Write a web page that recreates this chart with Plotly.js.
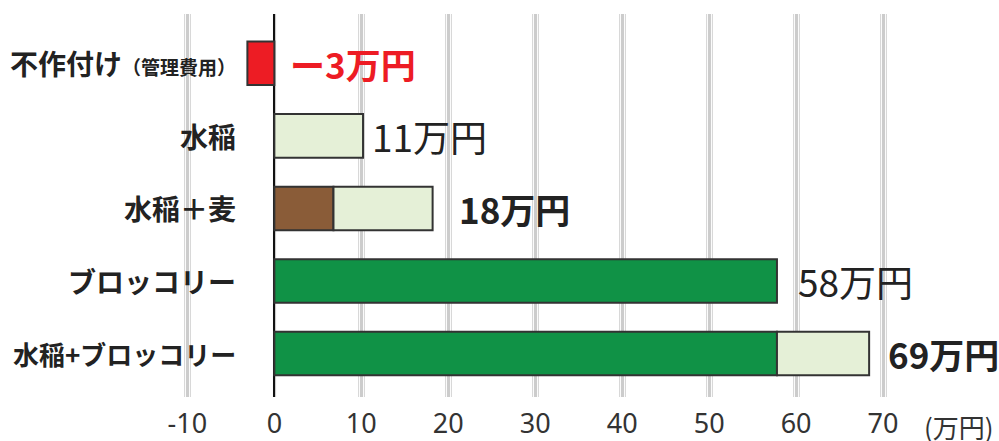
<!DOCTYPE html>
<html><head><meta charset="utf-8">
<script src="https://cdn.plot.ly/plotly-3.0.1.min.js"></script>
<style>html,body{margin:0;padding:0;background:#fff}#chart{width:999px;height:441px}</style>
</head><body><div id="chart"></div>
<script>
// ---- data ----
const categories = ["不作付け（管理費用）", "水稲", "水稲＋麦", "ブロッコリー", "水稲＋ブロッコリー"];
const categoryLabels = ["不作付け<span style=\"font-size:19px\">（管理費用）</span>", "水稲", "水稲＋麦", "ブロッコリー", "<span style=\"font-size:26px\">水稲+ブロッコリー</span>"];
const broccoli = [null, null, null, 57.8, 57.8];
const wheat    = [null, null, 6.8, null, null];
const rice     = [null, 10.2, 11.4, null, 10.6];
const fallow   = [-3.1, null, null, null, null];
const totalLabels = ["ー3万円", "11万円", "18万円", "58万円", "69万円"];
const labelBold   = [true, false, true, false, true];
const tickVals = [-10, 0, 10, 20, 30, 40, 50, 60, 70];
const tickText = ["-10", "0", "10", "20", "30", "40", "50", "60", "70"];
const unitLabel = "(万円)";

// ---- styling ----
const FONT = '"Noto Sans CJK JP", "Noto Sans", sans-serif';
const TICKFONT = '"Noto Sans", "Open Sans", sans-serif';
const border = {color: '#333333', width: 2};
function barTrace(vals, color, name) {
  return {type: 'bar', orientation: 'h', y: categories, x: vals, name: name,
    marker: {color: color, line: border}, hoverinfo: 'skip', width: 0.6};
}
const traces = [
  barTrace(broccoli, '#109246', 'ブロッコリー'),
  barTrace(wheat, '#8a5c38', '麦'),
  barTrace(rice, '#e5f0d7', '水稲'),
  barTrace(fallow, '#ed1c24', '不作付け'),
];

const totals = categories.map((c, i) =>
  [broccoli[i], wheat[i], rice[i], fallow[i]].reduce((s, v) => s + (v || 0), 0));
const labelShift = [14, 7, 24, 19, 17];

const annotations = [];
categories.forEach((c, i) => {
  annotations.push({
    x: totals[i] < 0 ? 0 : totals[i], y: c, xref: 'x', yref: 'y',
    xanchor: 'left', yanchor: 'middle', xshift: labelShift[i], showarrow: false,
    text: labelBold[i] ? '<b>' + totalLabels[i] + '</b>' : totalLabels[i],
    font: {family: FONT, size: labelBold[i] ? 35 : 37, color: totals[i] < 0 ? '#ed1c24' : '#222222'}
  });
  annotations.push({
    x: 0.0855, y: c, xref: 'paper', yref: 'y', xanchor: 'right', yanchor: 'middle',
    showarrow: false, text: '<b>' + categoryLabels[i] + '</b>',
    font: {family: FONT, size: 28, color: '#222222'}
  });
});
annotations.push({x: 1.036, y: 0, xref: 'paper', yref: 'paper', xanchor: 'right', yanchor: 'middle',
  yshift: -29, xshift: -3, showarrow: false, text: unitLabel, font: {family: FONT, size: 26, color: '#333333'}});

const xr = [-12, 80];
const layout = {
  width: 999, height: 441,
  margin: {l: 170, r: 29, t: 14, b: 44},
  paper_bgcolor: '#ffffff', plot_bgcolor: '#ffffff',
  barmode: 'relative', bargap: 0.4, showlegend: false,
  font: {family: FONT},
  xaxis: {range: xr, tickvals: tickVals, ticktext: tickText, showgrid: true,
    gridcolor: '#d8d8d8', gridwidth: 7, zeroline: true, zerolinecolor: '#111111', zerolinewidth: 2,
    showline: false, ticks: '', ticklabelstandoff: 8,
    tickfont: {family: TICKFONT, size: 27, color: '#333333'}, fixedrange: true},
  xaxis2: {range: xr, overlaying: 'x', tickvals: tickVals, showticklabels: false, showgrid: true,
    gridcolor: '#fbfbfb', gridwidth: 5, zeroline: false, showline: false, ticks: ''},
  xaxis3: {range: xr, overlaying: 'x', tickvals: tickVals, showticklabels: false, showgrid: true,
    gridcolor: '#cccccc', gridwidth: 3, zeroline: false, showline: false, ticks: ''},
  yaxis: {type: 'category', range: [4.6, -0.68], showticklabels: false, showgrid: false,
    zeroline: false, showline: false, ticks: '', fixedrange: true},
  annotations: annotations
};
// invisible helpers to activate overlaid axes' grids
traces.unshift({type: 'scatter', x: [0], y: [categories[0]], xaxis: 'x3', mode: 'markers',
  marker: {opacity: 0}, hoverinfo: 'skip'});
traces.unshift({type: 'scatter', x: [0], y: [categories[0]], xaxis: 'x2', mode: 'markers',
  marker: {opacity: 0}, hoverinfo: 'skip'});

Plotly.newPlot('chart', traces, layout, {staticPlot: true, displayModeBar: false});
</script>
</body></html>
